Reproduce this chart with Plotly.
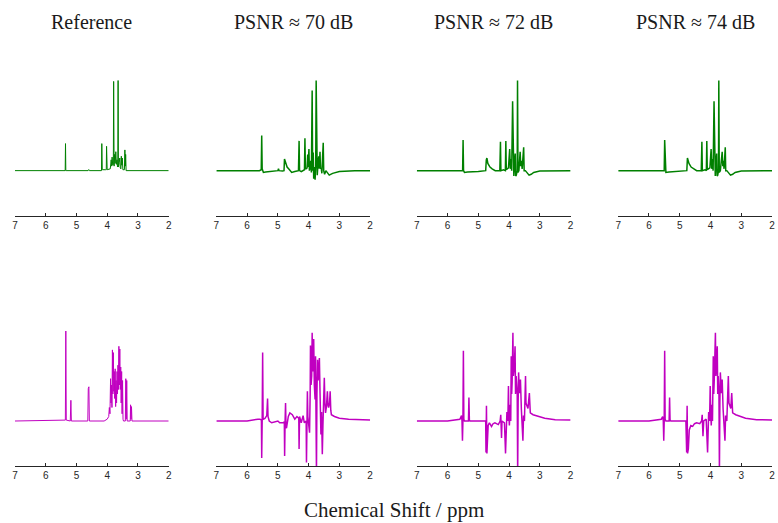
import plotly.graph_objects as go

# ---------------- data (ppm, normalised intensity) ----------------
titles = ["Reference", "PSNR \u2248 70 dB", "PSNR \u2248 72 dB", "PSNR \u2248 74 dB"]
tick_vals = [7, 6, 5, 4, 3, 2]
tick_text = ["7", "6", "5", "4", "3", "2"]

# top row (green)
ref_top_ppm = [7.0, 5.40, 5.365, 5.355, 5.345, 5.31, 4.62, 4.60, 4.58, 4.20, 4.185, 4.175, 4.16, 4.05, 4.03, 4.02, 4.00,
               3.90, 3.87, 3.855, 3.84, 3.82, 3.80, 3.79, 3.775, 3.76, 3.74, 3.72, 3.70, 3.68, 3.665, 3.655, 3.645, 3.635,
               3.61, 3.59, 3.575, 3.555, 3.54, 3.525, 3.51, 3.49, 3.44, 3.425, 3.41, 3.40, 3.385, 2.0]
ref_top_int = [0.0, 0.0, 0.0, 0.30, 0.0, 0.0, 0.0, 0.012, 0.0, 0.0, 0.0, 0.30, 0.01, 0.01, 0.01, 0.27, 0.01,
               0.02, 0.12, 0.05, 0.15, 0.06, 0.07, 0.99, 0.05, 0.18, 0.08, 0.21, 0.07, 0.12, 0.04, 0.05, 1.0, 0.04,
               0.09, 0.14, 0.03, 0.02, 0.16, 0.06, 0.14, 0.01, 0.01, 0.23, 0.05, 0.18, 0.0, 0.0]

p70_top_ppm = [7.0, 6.0, 5.6, 5.54, 5.525, 5.51, 5.47, 5.40, 5.2, 5.0, 4.98, 4.96, 4.85, 4.80, 4.785, 4.77, 4.74, 4.70,
               4.65, 4.55, 4.45, 4.33, 4.31, 4.295, 4.24, 4.20, 4.135, 4.12, 4.105, 4.08, 4.05, 4.03, 4.015, 3.99, 3.975,
               3.95, 3.93, 3.91, 3.885, 3.87, 3.85, 3.835, 3.81, 3.79, 3.77, 3.755, 3.74, 3.72, 3.70, 3.67, 3.655, 3.63,
               3.615, 3.59, 3.57, 3.545, 3.525, 3.51, 3.48, 3.44, 3.40, 3.33, 3.22, 3.0, 2.5, 2.0]
p70_top_int = [0.0, 0.0, 0.0, 0.01, 0.39, 0.02, -0.02, -0.015, -0.005, 0.0, 0.02, 0.0, -0.005, 0.0, 0.13, 0.11, 0.07, 0.04,
               0.02, -0.02, -0.01, 0.0, 0.33, 0.0, -0.01, 0.0, 0.01, 0.36, 0.02, 0.02, 0.03, 0.18, 0.04, 0.24, 0.0,
               0.03, 0.11, -0.02, 0.89, 0.0, 0.20, -0.09, 0.04, -0.10, 0.05, 1.0, -0.02, -0.05, 0.05, 0.16, 0.02, 0.21,
               0.02, 0.03, -0.03, 0.10, 0.31, 0.0, -0.04, 0.0, -0.02, -0.05, -0.03, -0.01, 0.0, 0.0]

p72_top_ppm = [7.0, 5.6, 5.51, 5.495, 5.48, 5.45, 5.35, 5.0, 4.80, 4.76, 4.74, 4.72, 4.69, 4.62, 4.55, 4.45, 4.30, 4.28,
               4.265, 4.18, 4.12, 4.105, 4.09, 4.02, 3.98, 3.96, 3.935, 3.915, 3.885, 3.87, 3.845, 3.82, 3.80, 3.785,
               3.765, 3.735, 3.725, 3.71, 3.68, 3.64, 3.62, 3.595, 3.575, 3.525, 3.51, 3.47, 3.40, 3.35, 3.28, 3.20,
               3.0, 2.0]
p72_top_int = [0.0, 0.0, 0.0, 0.34, 0.0, -0.02, -0.015, -0.01, -0.005, 0.0, 0.12, 0.14, 0.08, 0.04, 0.02, 0.0, 0.0, 0.32,
               0.0, 0.01, 0.0, 0.33, 0.01, 0.03, 0.24, 0.02, 0.13, 0.0, 0.77, 0.0, -0.06, 0.10, 0.19, -0.06,
               -0.05, 0.0, 1.0, -0.02, 0.0, 0.21, 0.05, 0.11, 0.02, 0.26, 0.0, 0.0, -0.03, -0.05, -0.04, -0.02,
               -0.005, 0.0]

p74_top_ppm = [7.0, 5.6, 5.505, 5.49, 5.475, 5.45, 5.35, 5.0, 4.80, 4.77, 4.75, 4.73, 4.70, 4.63, 4.55, 4.45, 4.30, 4.28,
               4.265, 4.18, 4.135, 4.12, 4.105, 4.02, 3.98, 3.96, 3.935, 3.915, 3.885, 3.87, 3.845, 3.82, 3.80, 3.785,
               3.765, 3.74, 3.73, 3.715, 3.68, 3.62, 3.60, 3.58, 3.56, 3.52, 3.505, 3.47, 3.40, 3.35, 3.28, 3.20,
               3.0, 2.0]
p74_top_int = [0.0, 0.0, 0.0, 0.34, 0.0, -0.02, -0.015, -0.01, -0.005, 0.0, 0.14, 0.12, 0.08, 0.04, 0.02, 0.0, 0.0, 0.32,
               0.0, 0.01, 0.0, 0.33, 0.01, 0.03, 0.24, 0.02, 0.13, 0.0, 0.77, 0.0, -0.06, 0.10, 0.19, -0.06,
               -0.05, 0.0, 1.0, -0.02, 0.0, 0.21, 0.05, 0.11, 0.02, 0.26, 0.0, 0.0, -0.03, -0.05, -0.04, -0.02,
               -0.005, 0.0]

# bottom row (magenta)
ref_bot_ppm = [7.0, 5.36, 5.345, 5.33, 5.20, 5.18, 5.165, 4.63, 4.615, 4.605, 4.595, 4.58, 4.10, 4.00, 3.95, 3.93, 3.91,
               3.89, 3.875, 3.86, 3.845, 3.83, 3.815, 3.80, 3.785, 3.77, 3.755, 3.74, 3.725, 3.71, 3.695, 3.68, 3.665,
               3.65, 3.635, 3.62, 3.605, 3.59, 3.575, 3.56, 3.545, 3.53, 3.515, 3.50, 3.485, 3.47, 3.41, 3.395, 3.38,
               3.365, 3.35, 3.25, 3.24, 3.225, 3.21, 3.195, 2.0]
ref_bot_int = [0.0, 0.01, 1.0, 0.01, 0.0, 0.23, 0.0, 0.0, 0.36, 0.05, 0.38, 0.0, 0.0, 0.02, 0.05, 0.15, 0.08,
               0.47, 0.20, 0.40, 0.15, 0.79, 0.30, 0.76, 0.33, 0.55, 0.25, 0.58, 0.16, 0.45, 0.20, 0.55, 0.30,
               0.62, 0.35, 0.83, 0.40, 0.80, 0.35, 0.60, 0.20, 0.55, 0.08, 0.45, 0.02, 0.0, 0.0, 0.47, 0.02,
               0.45, 0.0, 0.0, 0.18, 0.02, 0.16, 0.0, 0.0]

p70_bot_ppm = [7.0, 6.0, 5.65, 5.58, 5.535, 5.525, 5.51, 5.495, 5.48, 5.42, 5.36, 5.335, 5.32, 5.28, 5.20, 5.0, 4.94,
               4.83, 4.79, 4.78, 4.765, 4.75, 4.735, 4.72, 4.66, 4.61, 4.53, 4.45, 4.38, 4.32, 4.31, 4.295, 4.24, 4.18,
               4.14, 4.08, 4.07, 4.055, 4.04, 4.025, 4.01, 3.97, 3.95, 3.94, 3.92, 3.90, 3.885, 3.87, 3.85, 3.835,
               3.815, 3.79, 3.775, 3.76, 3.745, 3.73, 3.71, 3.69, 3.68, 3.65, 3.63, 3.60, 3.58, 3.555, 3.535, 3.52,
               3.49, 3.47, 3.45, 3.42, 3.39, 3.37, 3.35, 3.32, 3.30, 3.28, 3.26, 3.16, 3.0, 2.7, 2.3, 2.0]
p70_bot_int = [0.0, 0.0, 0.02, 0.02, 0.01, -0.41, 0.0, 0.76, 0.02, 0.03, 0.06, 0.25, 0.05, 0.0, -0.02, 0.0, -0.02,
               -0.02, -0.01, -0.39, 0.0, 0.20, -0.06, -0.08, 0.05, 0.09, 0.07, 0.02, 0.05, 0.03, -0.31, 0.05, -0.02, 0.06,
               -0.02, 0.0, -0.46, 0.0, 0.33, 0.05, -0.02, -0.13, 0.30, 0.84, 0.40, 0.50, 0.98, 0.55, 0.68, 0.91,
               0.40, 0.24, 0.72, 0.35, -0.60, 0.30, 0.68, 0.45, 0.50, 0.70, 0.33, -0.15, 0.10, -0.37, -0.05, 0.15,
               0.48, 0.20, 0.09, 0.16, 0.33, 0.18, 0.15, 0.20, 0.33, 0.12, 0.07, 0.05, 0.03, 0.02, 0.01, 0.01]

p72_bot_ppm = [7.0, 6.0, 5.6, 5.545, 5.53, 5.515, 5.50, 5.485, 5.47, 5.45, 5.32, 5.305, 5.29, 5.27, 4.80, 4.76, 4.75,
               4.735, 4.72, 4.70, 4.68, 4.64, 4.57, 4.52, 4.46, 4.35, 4.29, 4.27, 4.245, 4.23, 4.15, 4.115, 4.10, 4.07,
               4.04, 4.02, 4.005, 3.99, 3.96, 3.945, 3.93, 3.915, 3.90, 3.875, 3.86, 3.83, 3.805, 3.79, 3.77, 3.735,
               3.72, 3.705, 3.69, 3.665, 3.63, 3.60, 3.57, 3.55, 3.53, 3.50, 3.465, 3.45, 3.42, 3.385, 3.34, 3.32,
               3.31, 3.22, 3.06, 2.84, 2.5, 2.0]
p72_bot_int = [0.0, 0.0, 0.02, 0.06, 0.0, -0.22, 0.0, 0.78, 0.02, 0.0, 0.0, 0.26, 0.01, 0.0, 0.0, 0.0, -0.35,
               0.17, -0.36, -0.17, -0.05, -0.02, -0.06, -0.03, -0.02, -0.04, 0.0, 0.07, -0.19, 0.0, -0.02, -0.36, -0.05, 0.10,
               0.0, 0.39, 0.05, -0.05, 0.18, 0.0, 0.72, 0.30, 0.43, 0.98, 0.50, 0.61, 0.83, 0.30, 0.50, 0.30,
               -0.60, 0.20, 0.54, 0.31, 0.46, 0.13, -0.10, -0.22, 0.06, 0.0, 0.50, 0.20, 0.17, 0.14, 0.31, 0.12,
               0.09, 0.07, 0.05, 0.03, 0.015, 0.01]

p74_bot_ppm = [7.0, 6.0, 5.6, 5.555, 5.535, 5.52, 5.505, 5.49, 5.475, 5.45, 5.345, 5.33, 5.315, 5.29, 4.80, 4.775, 4.76,
               4.745, 4.72, 4.69, 4.64, 4.58, 4.52, 4.45, 4.35, 4.29, 4.27, 4.245, 4.22, 4.14, 4.095, 4.08, 4.06, 4.03,
               4.01, 3.99, 3.975, 3.95, 3.935, 3.91, 3.895, 3.88, 3.84, 3.825, 3.81, 3.78, 3.765, 3.75, 3.725, 3.71,
               3.695, 3.68, 3.65, 3.62, 3.59, 3.56, 3.53, 3.51, 3.47, 3.42, 3.40, 3.37, 3.34, 3.31, 3.29, 3.28,
               3.18, 3.02, 2.86, 2.5, 2.0]
p74_bot_int = [0.0, 0.0, 0.02, 0.05, 0.0, -0.22, 0.0, 0.78, 0.02, 0.0, 0.0, 0.26, 0.01, 0.0, 0.0, -0.35, 0.17,
               -0.36, -0.31, -0.10, -0.05, -0.06, -0.03, -0.02, -0.03, 0.0, 0.07, -0.17, 0.0, 0.02, -0.35, -0.05, 0.10, 0.0,
               0.39, 0.05, -0.05, 0.18, 0.0, 0.72, 0.30, 0.43, 0.98, 0.50, 0.61, 0.83, 0.30, 0.50, 0.30, -0.60,
               0.20, 0.54, 0.31, 0.46, 0.13, -0.10, -0.22, 0.06, 0.0, 0.50, 0.20, 0.17, 0.14, 0.31, 0.12, 0.09,
               0.07, 0.05, 0.03, 0.015, 0.01]

top_series = [(ref_top_ppm, ref_top_int), (p70_top_ppm, p70_top_int),
              (p72_top_ppm, p72_top_int), (p74_top_ppm, p74_top_int)]
bot_series = [(ref_bot_ppm, ref_bot_int), (p70_bot_ppm, p70_bot_int),
              (p72_bot_ppm, p72_bot_int), (p74_bot_ppm, p74_bot_int)]

# ---------------- styling / layout ----------------
W, H = 778, 523
GREEN = "rgb(0,128,0)"
MAGENTA = "rgb(192,0,192)"
AX = "#262626"
col_px = [(12, 167), (215, 370), (417, 572), (620, 775)]
row_px = [(76, 215.7), (326.5, 466)]  # (top, bottom) in pixels

fig = go.Figure()
layout = dict(width=W, height=H, margin=dict(l=0, r=0, t=0, b=0),
              paper_bgcolor="white", plot_bgcolor="white", showlegend=False)

k = 0
for r, series in enumerate([top_series, bot_series]):
    color = GREEN if r == 0 else MAGENTA
    for c, (xs, ys) in enumerate(series):
        k += 1
        sfx = "" if k == 1 else str(k)
        fig.add_trace(go.Scatter(x=xs, y=ys, mode="lines",
                                 line=dict(color=color, width=1.0 if c == 0 else 1.5),
                                 xaxis="x" + sfx, yaxis="y" + sfx, hoverinfo="skip"))
        x0, x1 = col_px[c]
        t, b = row_px[r]
        layout["xaxis" + sfx] = dict(domain=[x0 / W, x1 / W], anchor="y" + sfx, range=[7, 2],
                                     tickvals=tick_vals, ticktext=tick_text, ticks="inside", ticklen=3,
                                     tickcolor=AX, showline=True, linecolor=AX, linewidth=1,
                                     showgrid=False, zeroline=False,
                                     tickfont=dict(family="Liberation Sans, Arial, sans-serif", size=10, color=AX))
        layout["yaxis" + sfx] = dict(domain=[1 - b / H, 1 - t / H], anchor="x" + sfx, range=[-0.5, 1.05],
                                     visible=False, showgrid=False, zeroline=False)

annotations = []
for c, title in enumerate(titles):
    x0, x1 = col_px[c]
    annotations.append(dict(text=title, x=(x0 + x1) / 2 / W, y=1 - 22 / H, xref="paper", yref="paper",
                            showarrow=False, xanchor="center", yanchor="middle",
                            font=dict(family="Liberation Serif, DejaVu Serif, serif", size=20, color="#1a1a1a")))
annotations.append(dict(text="Chemical Shift / ppm", x=394 / W, y=1 - 510 / H, xref="paper", yref="paper",
                        showarrow=False, xanchor="center", yanchor="middle",
                        font=dict(family="Liberation Serif, DejaVu Serif, serif", size=21, color="#1a1a1a")))
layout["annotations"] = annotations
fig.update_layout(**layout)
fig.write_html("out.html", config={"displayModeBar": False},
               post_script="document.body.style.margin='0';document.body.style.overflow='hidden';")
